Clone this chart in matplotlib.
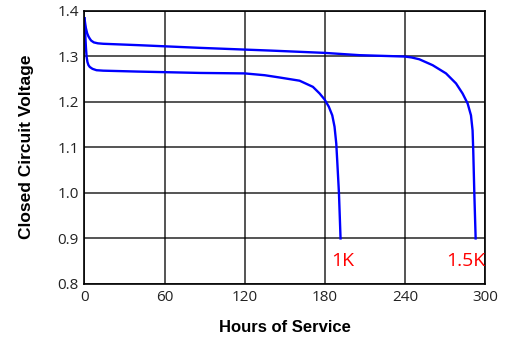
import numpy as np
import matplotlib.pyplot as plt

# 1.5K load curve (hours, volts)
hours_15k = [0, 0.5, 1, 2, 3, 4, 5, 7, 10, 14, 40, 87, 140, 180, 206, 240, 245,
             250.8, 260.8, 270.8, 278.3, 283.2, 287.0, 289.5, 290.7, 291.2, 292, 293]
volts_15k = [1.383, 1.372, 1.362, 1.350, 1.343, 1.338, 1.334, 1.330, 1.328, 1.327,
             1.324, 1.318, 1.312, 1.307, 1.302, 1.299, 1.297,
             1.293, 1.280, 1.262, 1.240, 1.218, 1.196, 1.170, 1.137, 1.093, 1.0, 0.9]

# 1K load curve
hours_1k = [0, 0.3, 0.7, 1.1, 1.6, 2.2, 3, 4, 6, 9, 14, 40, 87, 120, 135, 146.2,
            161.1, 171.1, 176.1, 179.8, 183.0, 185.6, 187.3, 188.6, 189.3, 190.6, 191.8]
volts_1k = [1.383, 1.365, 1.34, 1.318, 1.298, 1.287, 1.280, 1.276, 1.272, 1.269, 1.268,
            1.266, 1.263, 1.262, 1.258, 1.253,
            1.246, 1.2325, 1.218, 1.205, 1.189, 1.170, 1.145, 1.108, 1.071, 1.0, 0.9]

labels = ['1K', '1.5K']
label_x = [185, 271]
label_y = [0.84, 0.84]

plt.rcParams['font.family'] = ['Open Sans', 'DejaVu Sans']

fig = plt.figure(figsize=(5.13, 3.41), dpi=100)
ax = fig.add_axes([0.1647, 0.1672, 0.7807, 0.802])

ax.plot(hours_15k, volts_15k, color='#0000ff', lw=1.7, solid_joinstyle='round')
ax.plot(hours_1k, volts_1k, color='#0000ff', lw=1.7, solid_joinstyle='round')

for t, x, y in zip(labels, label_x, label_y):
    ax.text(x, y, t, color='#ff0000', fontsize=14, ha='left', va='baseline')

ax.set_xlim(0, 300)
ax.set_ylim(0.8, 1.4)
ax.set_xticks(np.arange(0, 301, 60))
ax.set_yticks(np.arange(0.8, 1.41, 0.1))
ax.set_yticklabels([f'{v:.1f}' for v in np.arange(0.8, 1.41, 0.1)])
ax.grid(True, color='black', lw=1.1, alpha=0.85)
ax.set_axisbelow(True)
ax.tick_params(length=0, labelsize=11, pad=4, colors='#222222')
for s in ax.spines.values():
    s.set_color('black')
    s.set_linewidth(1.2)

ax.set_xlabel('Hours of Service', fontsize=12, fontweight='bold',
              family=['Liberation Sans', 'DejaVu Sans'], labelpad=11)
ax.set_ylabel('Closed Circuit Voltage', fontsize=12.5, fontweight='bold',
              family=['Liberation Sans', 'DejaVu Sans'], labelpad=17)

fig.savefig('out.png', dpi=100)
